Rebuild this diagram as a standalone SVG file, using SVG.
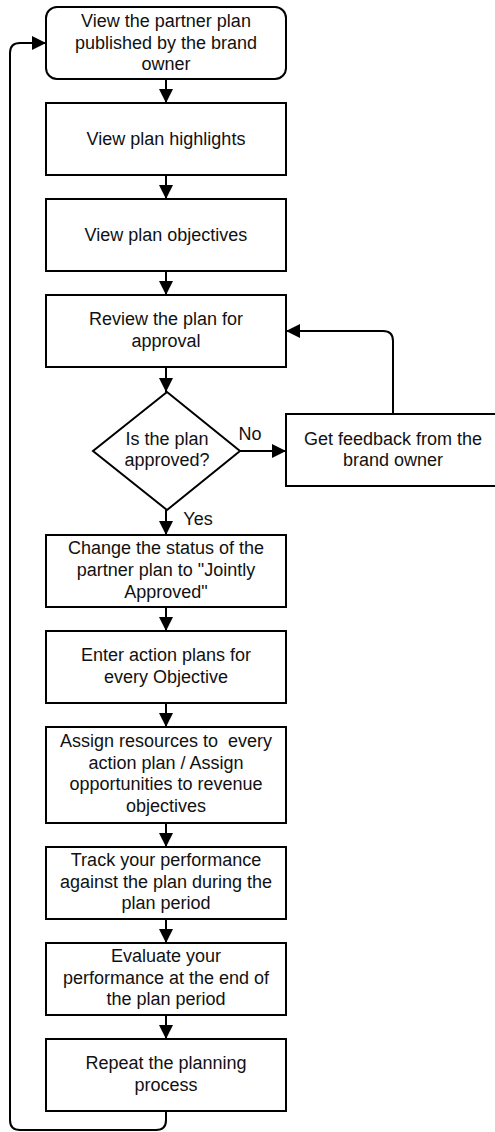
<svg xmlns="http://www.w3.org/2000/svg" width="495" height="1132" viewBox="0 0 495 1132">
<defs>
<marker id="ah" viewBox="0 0 14 14" refX="14" refY="7" markerWidth="14" markerHeight="14" markerUnits="userSpaceOnUse" orient="auto">
<path d="M0,0 L14,7 L0,14 Z" fill="#000"/>
</marker>
</defs>
<style>
.box{fill:#fff;stroke:#000;stroke-width:2}
.t{font-family:"Liberation Sans",Arial,sans-serif;font-size:18px;fill:#111;text-anchor:middle}
.c{fill:none;stroke:#000;stroke-width:2}
</style>
<rect width="495" height="1132" fill="#fff"/>
<g id="connectors">
<line class="c" x1="166" y1="79" x2="166" y2="103" marker-end="url(#ah)"/>
<line class="c" x1="166" y1="175" x2="166" y2="199" marker-end="url(#ah)"/>
<line class="c" x1="166" y1="271" x2="166" y2="295" marker-end="url(#ah)"/>
<line class="c" x1="166" y1="367" x2="166" y2="392" marker-end="url(#ah)"/>
<line class="c" x1="166" y1="510" x2="166" y2="535" marker-end="url(#ah)"/>
<line class="c" x1="166" y1="607" x2="166" y2="631" marker-end="url(#ah)"/>
<line class="c" x1="166" y1="703" x2="166" y2="727" marker-end="url(#ah)"/>
<line class="c" x1="166" y1="823" x2="166" y2="847" marker-end="url(#ah)"/>
<line class="c" x1="166" y1="919" x2="166" y2="943" marker-end="url(#ah)"/>
<line class="c" x1="166" y1="1015" x2="166" y2="1039" marker-end="url(#ah)"/>
<line class="c" x1="240" y1="451" x2="286" y2="451" marker-end="url(#ah)"/>
<path class="c" d="M393,414 L393,341 Q393,331 383,331 L286,331" marker-end="url(#ah)"/>
<path class="c" d="M166,1111 L166,1120 Q166,1130 156,1130 L20,1130 Q10,1130 10,1120 L10,53 Q10,43 20,43 L46,43" marker-end="url(#ah)"/>
<text class="t" x="250" y="440">No</text>
<text class="t" x="198" y="525">Yes</text>
</g>
<g id="n1">
<rect class="box" x="46" y="7" width="240" height="72" rx="11"/>
<text class="t" x="166" y="27">View the partner plan</text>
<text class="t" x="166" y="48.5">published by the brand</text>
<text class="t" x="166" y="70">owner</text>
</g>
<g id="n2">
<rect class="box" x="46" y="103" width="240" height="72"/>
<text class="t" x="166" y="145">View plan highlights</text>
</g>
<g id="n3">
<rect class="box" x="46" y="199" width="240" height="72"/>
<text class="t" x="166" y="241">View plan objectives</text>
</g>
<g id="n4">
<rect class="box" x="46" y="295" width="240" height="72"/>
<text class="t" x="166" y="325">Review the plan for</text>
<text class="t" x="166" y="347">approval</text>
</g>
<g id="n5">
<path class="box" d="M167,392 L240,451 L167,510 L93,451 Z"/>
<text class="t" x="167" y="445">Is the plan</text>
<text class="t" x="167" y="466">approved?</text>
</g>
<g id="n6">
<rect class="box" x="286" y="414" width="220" height="72"/>
<text class="t" x="393" y="445">Get feedback from the</text>
<text class="t" x="393" y="466">brand owner</text>
</g>
<g id="n7">
<rect class="box" x="46" y="535" width="240" height="72"/>
<text class="t" x="166" y="554">Change the status of the</text>
<text class="t" x="166" y="576">partner plan to "Jointly</text>
<text class="t" x="166" y="598">Approved"</text>
</g>
<g id="n8">
<rect class="box" x="46" y="631" width="240" height="72"/>
<text class="t" x="166" y="661">Enter action plans for</text>
<text class="t" x="166" y="683">every Objective</text>
</g>
<g id="n9">
<rect class="box" x="46" y="727" width="240" height="96"/>
<text class="t" x="166" y="747" style="white-space:pre" xml:space="preserve">Assign resources to  every</text>
<text class="t" x="166" y="768.5">action plan / Assign</text>
<text class="t" x="166" y="790">opportunities to revenue</text>
<text class="t" x="166" y="811.5">objectives</text>
</g>
<g id="n10">
<rect class="box" x="46" y="847" width="240" height="72"/>
<text class="t" x="166" y="866">Track your performance</text>
<text class="t" x="166" y="888">against the plan during the</text>
<text class="t" x="166" y="909">plan period</text>
</g>
<g id="n11">
<rect class="box" x="46" y="943" width="240" height="72"/>
<text class="t" x="166" y="962">Evaluate your</text>
<text class="t" x="166" y="984">performance at the end of</text>
<text class="t" x="166" y="1005">the plan period</text>
</g>
<g id="n12">
<rect class="box" x="46" y="1039" width="240" height="72"/>
<text class="t" x="166" y="1069">Repeat the planning</text>
<text class="t" x="166" y="1091">process</text>
</g>
</svg>
